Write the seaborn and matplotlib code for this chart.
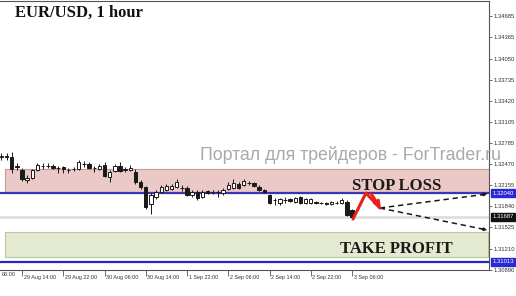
import numpy as np
import pandas as pd
import matplotlib
matplotlib.use("Agg")
import matplotlib.pyplot as plt
import seaborn as sns
from matplotlib.transforms import ScaledTranslation, blended_transform_factory
from matplotlib.patches import Rectangle

# ---------------- data (EUR/USD, 1 hour) ----------------
opens = [1.32578, 1.32593, 1.32578, 1.32444, 1.32384, 1.32235, 1.32264, 1.32384, 1.32444, 1.32444,
         1.32444, 1.32414, 1.32429, 1.32384, 1.32399, 1.32399, 1.32474, 1.32474, 1.32414, 1.32399,
         1.32459, 1.32279, 1.32369, 1.32444, 1.32384, 1.32384, 1.32354, 1.32205, 1.32130, 1.31876,
         1.31981, 1.32055, 1.32085, 1.32100, 1.32130, 1.32115, 1.32115, 1.32010, 1.32055, 1.31981,
         1.32070, 1.32055, 1.32055, 1.32040, 1.32100, 1.32115, 1.32175, 1.32160, 1.32190, 1.32190,
         1.32130, 1.32085, 1.32010, 1.31936, 1.31891, 1.31936, 1.31951, 1.31906, 1.31981, 1.31891,
         1.31891, 1.31906, 1.31891, 1.31891, 1.31876, 1.31891, 1.31891, 1.31906, 1.31786]
highs = [1.32638, 1.32638, 1.32653, 1.32489, 1.32414, 1.32309, 1.32399, 1.32489, 1.32489, 1.32489,
         1.32474, 1.32444, 1.32444, 1.32414, 1.32429, 1.32533, 1.32518, 1.32504, 1.32444, 1.32474,
         1.32504, 1.32384, 1.32474, 1.32504, 1.32429, 1.32459, 1.32399, 1.32235, 1.32145, 1.32040,
         1.32085, 1.32160, 1.32175, 1.32175, 1.32250, 1.32160, 1.32145, 1.32085, 1.32085, 1.32085,
         1.32085, 1.32085, 1.32085, 1.32115, 1.32205, 1.32250, 1.32205, 1.32250, 1.32220, 1.32205,
         1.32160, 1.32100, 1.32025, 1.31966, 1.31966, 1.31981, 1.31966, 1.31981, 1.31996, 1.31966,
         1.31966, 1.31921, 1.31906, 1.31906, 1.31921, 1.31921, 1.31966, 1.31936, 1.31801]
lows = [1.32533, 1.32533, 1.32339, 1.32384, 1.32220, 1.32190, 1.32250, 1.32369, 1.32399, 1.32414,
        1.32399, 1.32339, 1.32339, 1.32339, 1.32369, 1.32384, 1.32429, 1.32399, 1.32354, 1.32384,
        1.32279, 1.32205, 1.32354, 1.32354, 1.32354, 1.32369, 1.32175, 1.32100, 1.31801, 1.31727,
        1.31951, 1.32040, 1.32070, 1.32085, 1.32115, 1.32070, 1.31996, 1.31981, 1.31936, 1.31966,
        1.32025, 1.32025, 1.31981, 1.32010, 1.32085, 1.32100, 1.32100, 1.32145, 1.32160, 1.32130,
        1.32070, 1.32040, 1.31876, 1.31861, 1.31861, 1.31891, 1.31906, 1.31891, 1.31876, 1.31876,
        1.31876, 1.31876, 1.31876, 1.31861, 1.31861, 1.31876, 1.31876, 1.31697, 1.31652]
closes = [1.32593, 1.32578, 1.32399, 1.32429, 1.32250, 1.32264, 1.32384, 1.32459, 1.32440, 1.32440,
          1.32414, 1.32410, 1.32399, 1.32380, 1.32395, 1.32504, 1.32470, 1.32414, 1.32410, 1.32444,
          1.32294, 1.32354, 1.32444, 1.32369, 1.32399, 1.32414, 1.32205, 1.32130, 1.31831, 1.32010,
          1.32055, 1.32130, 1.32145, 1.32145, 1.32205, 1.32110, 1.32010, 1.32055, 1.31966, 1.32055,
          1.32040, 1.32050, 1.32050, 1.32085, 1.32160, 1.32190, 1.32115, 1.32220, 1.32185, 1.32145,
          1.32085, 1.32055, 1.31891, 1.31930, 1.31951, 1.31930, 1.31921, 1.31966, 1.31891, 1.31951,
          1.31951, 1.31891, 1.31885, 1.31876, 1.31906, 1.31885, 1.31936, 1.31712, 1.31687]

tick_bars = [4, 12, 20, 28, 36, 44, 52, 60, 68]
tick_labels = ["29 Aug 14:00", "29 Aug 22:00", "30 Aug 06:00", "30 Aug 14:00",
               "1 Sep 22:00", "2 Sep 06:00", "2 Sep 14:00", "2 Sep 22:00", "3 Sep 06:00"]
partial_label = "06:00"
price_ticks = [1.34685, 1.34365, 1.34050, 1.33735, 1.33420, 1.33105, 1.32785,
               1.32470, 1.32155, 1.31840, 1.31525, 1.31210, 1.30890]

stop_loss = 1.32040
take_profit = 1.31013
last_price = 1.31687
sl_zone = [1.32040, 1.32399]
tp_zone = [1.31084, 1.31458]

red_path_x = [68.2, 70.7, 73.4]
red_path_y = [1.31652, 1.32040, 1.31816]
dash_up_x = [73.4, 94.2]
dash_up_y = [1.31816, 1.32025]
dash_dn_x = [73.4, 94.2]
dash_dn_y = [1.31816, 1.31488]

# ---------------- figure ----------------
sns.set_theme(style="white")
plt.rcParams["font.family"] = ["Liberation Sans", "DejaVu Sans"]

W, H = 516, 296
fig = plt.figure(figsize=(W / 100, H / 100), dpi=100)
fig.patch.set_facecolor("white")
ax = fig.add_axes([0, (H - 270) / H, 489 / W, 269 / H])
ax.set_facecolor("white")

ymin = 1.30890
ymax = ymin + 269 / 6693
ax.set_ylim(ymin, ymax)
px_per_bar = 5.156
x0 = 1.4
ax.set_xlim(-x0 / px_per_bar, (489 - x0) / px_per_bar)

df = pd.DataFrame({"bar": np.arange(len(opens)), "open": opens, "high": highs,
                   "low": lows, "close": closes})
df["up"] = df["close"] >= df["open"]

# zones
ax.add_patch(Rectangle((0.7, sl_zone[0]), 200, sl_zone[1] - sl_zone[0],
                       facecolor="#ebc9c7", edgecolor="#c99a98", lw=0.8, zorder=1))
ax.add_patch(Rectangle((0.7, tp_zone[0]), (488 - x0) / px_per_bar - 0.7, tp_zone[1] - tp_zone[0],
                       facecolor="#e3eacf", edgecolor="#b9c79f", lw=0.8, zorder=1))

# horizontal lines
ax.axhline(last_price, color="#dedede", lw=2.0, zorder=1.5)
ax.axhline(stop_loss, color="#3a35b0", lw=1.6, zorder=2)
ax.axhline(take_profit, color="#2525c0", lw=1.6, zorder=2)

# candles
ax.vlines(df["bar"], df["low"], df["high"], color="#1a1a1a", lw=0.7, zorder=3)
body_bottom = np.minimum(df["open"], df["close"])
body_h = np.maximum(np.abs(df["close"] - df["open"]), 0.000005)
ax.bar(df["bar"], body_h, bottom=body_bottom, width=0.66,
       color=np.where(df["up"], "white", "#1a1a1a"), edgecolor="#1a1a1a", lw=0.7, zorder=4)

# red path
sns.lineplot(x=red_path_x, y=red_path_y, sort=False, color="#e8201a", lw=2.2, ax=ax,
             zorder=6, legend=False)
ax.annotate("", xy=(red_path_x[2] + 0.2, red_path_y[2] - 0.00004),
            xytext=(red_path_x[1] + 1.0, red_path_y[1] - 0.00009),
            arrowprops=dict(arrowstyle="-|>", color="#e8201a", lw=2.0, mutation_scale=9,
                            shrinkA=0, shrinkB=0), zorder=7)

# dashed projections
for xs, ys in [(dash_up_x, dash_up_y), (dash_dn_x, dash_dn_y)]:
    sns.lineplot(x=xs, y=ys, sort=False, color="#1a1a1a", lw=1.1, ax=ax, zorder=5,
                 legend=False, linestyle=(0, (3.5, 2.5)))
    ax.annotate("", xy=(xs[1], ys[1]), xytext=(xs[1] - 1.2, ys[1] - (ys[1] - ys[0]) * 1.2 / (xs[1] - xs[0])),
                arrowprops=dict(arrowstyle="-|>", color="#1a1a1a", lw=0.8, mutation_scale=5,
                                shrinkA=0, shrinkB=0), zorder=5)

# labels on chart
ax.text(76.7, 1.32085, "STOP LOSS", family="Liberation Serif", weight="bold", fontsize=12,
        color="#1a1a1a", ha="center", va="baseline", zorder=8)
ax.text(76.7, 1.31144, "TAKE PROFIT", family="Liberation Serif", weight="bold", fontsize=12,
        color="#1a1a1a", ha="center", va="baseline", zorder=8)

# axes styling
ax.spines["left"].set_visible(False)
for s in ["top", "right", "bottom"]:
    ax.spines[s].set_color("#555555")
    ax.spines[s].set_linewidth(0.8)

ax.yaxis.tick_right()
ax.set_yticks([p for p in price_ticks if ymin <= p <= ymax])
ax.set_yticklabels([f"{p:.5f}" for p in price_ticks if ymin <= p <= ymax])
ax.tick_params(axis="y", right=True, left=False, length=2, width=0.6, color="#555555",
               labelsize=4.2, labelcolor="#333333", pad=1.2)

ax.set_xticks(tick_bars)
ax.set_xticklabels(tick_labels)
ax.tick_params(axis="x", bottom=True, length=4, width=0.6, color="#555555",
               labelsize=3.9, labelcolor="#333333", pad=1.0)
off = ScaledTranslation(1.5 / 100, 2.2 / 100, fig.dpi_scale_trans)
for lab in ax.get_xticklabels():
    lab.set_horizontalalignment("left")
    lab.set_transform(lab.get_transform() + off)
fig.text(2 / W, (H - 275) / H, partial_label, fontsize=3.9, color="#333333",
         ha="left", va="center")

ax.set_xlabel("")
ax.set_ylabel("")

# coloured price boxes
tr = blended_transform_factory(ax.transAxes, ax.transData)
for price, col in [(stop_loss, "#2a2ad0"), (last_price, "#111111"), (take_profit, "#2a2ad0")]:
    ax.text(1.0 + 3.5 / 489, price, f"{price:.5f}", transform=tr, fontsize=4.2, color="white",
            ha="left", va="center", clip_on=False, zorder=10,
            bbox=dict(boxstyle="square,pad=0.25", facecolor=col, edgecolor=col))

# title and watermark
fig.text(15 / W, (H - 17) / H, "EUR/USD, 1 hour", family="Liberation Serif", weight="bold",
         fontsize=12, color="#111111", ha="left", va="baseline")
fig.text(200 / W, (H - 160) / H, "Портал для трейдеров - ForTrader.ru", fontsize=12.8,
         color="#a9a9a9", ha="left", va="baseline", zorder=20)

fig.savefig("out.png", dpi=100)
